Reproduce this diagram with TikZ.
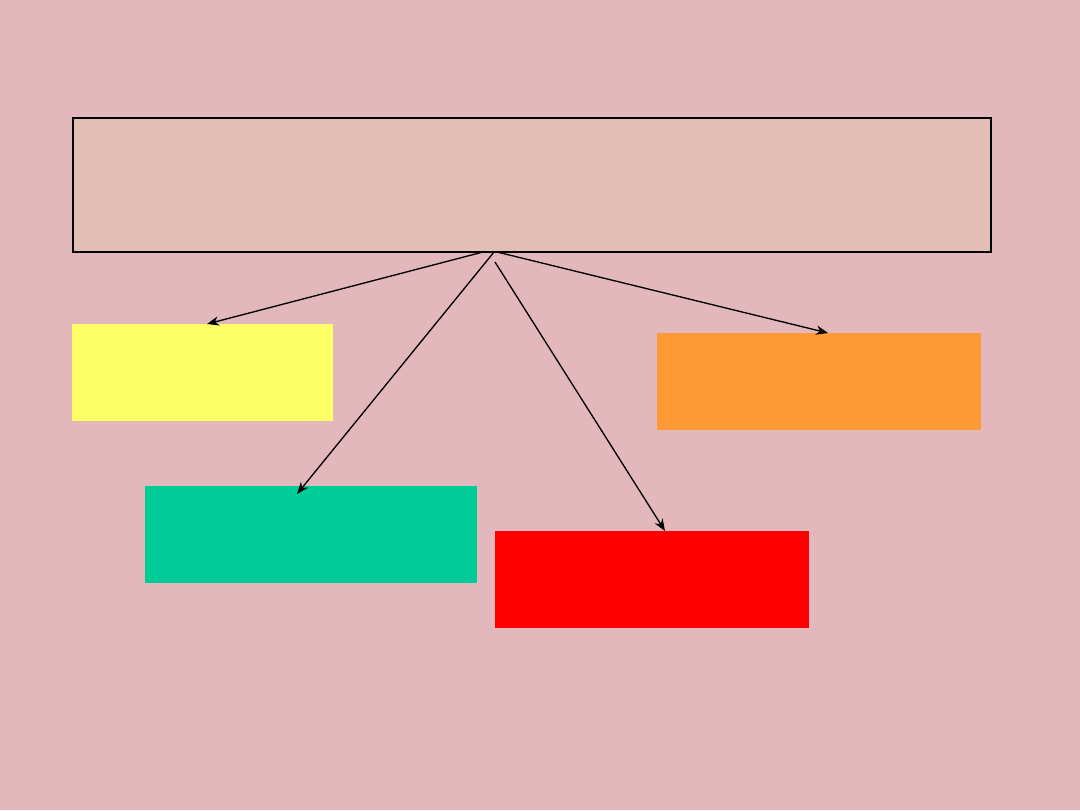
\documentclass[tikz,border=0pt]{standalone}
\usetikzlibrary{arrows.meta}
\definecolor{bgpink}{RGB}{226,184,188}
\definecolor{mainfill}{RGB}{226,190,180}
\definecolor{cyellow}{RGB}{255,255,102}
\definecolor{corange}{RGB}{255,153,51}
\definecolor{cgreen}{RGB}{0,204,153}
\definecolor{cred}{RGB}{255,0,0}
\tikzset{
  box/.style={draw=none, minimum width=#1, inner sep=0pt, outer sep=0pt, anchor=north west},
  conn/.style={draw=black, line width=1pt, -{Stealth[length=9pt,width=7pt]}}
}
\begin{document}
\begin{tikzpicture}[x=0.75pt,y=-0.75pt]
\fill[bgpink] (0,0) rectangle (1080,810);
\useasboundingbox (0,0) rectangle (1080,810);
\node[draw=black, line width=1.5pt, fill=mainfill, minimum width=918*0.75pt, minimum height=134*0.75pt, inner sep=0pt, anchor=north west] (main) at (72,117) {};
\node[box=261*0.75pt, fill=cyellow, minimum height=97*0.75pt] (yellow) at (72,324) {};
\node[box=324*0.75pt, fill=corange, minimum height=97*0.75pt] (orange) at (657,333) {};
\node[box=332*0.75pt, fill=cgreen, minimum height=97*0.75pt] (green) at (145,486) {};
\node[box=314*0.75pt, fill=cred, minimum height=97*0.75pt] (red) at (495,531) {};
\coordinate (s1) at (483,252);
\coordinate (s2) at (494,252);
\coordinate (s3) at (495,262);
\coordinate (s4) at (497,252);
\coordinate (e1) at (207,324);
\coordinate (e2) at (297,494);
\coordinate (e3) at (665,531);
\coordinate (e4) at (828,333);
\draw[conn] (s1) -- (e1);
\draw[conn] (s2) -- (e2);
\draw[conn] (s3) -- (e3);
\draw[conn] (s4) -- (e4);
\end{tikzpicture}
\end{document}
